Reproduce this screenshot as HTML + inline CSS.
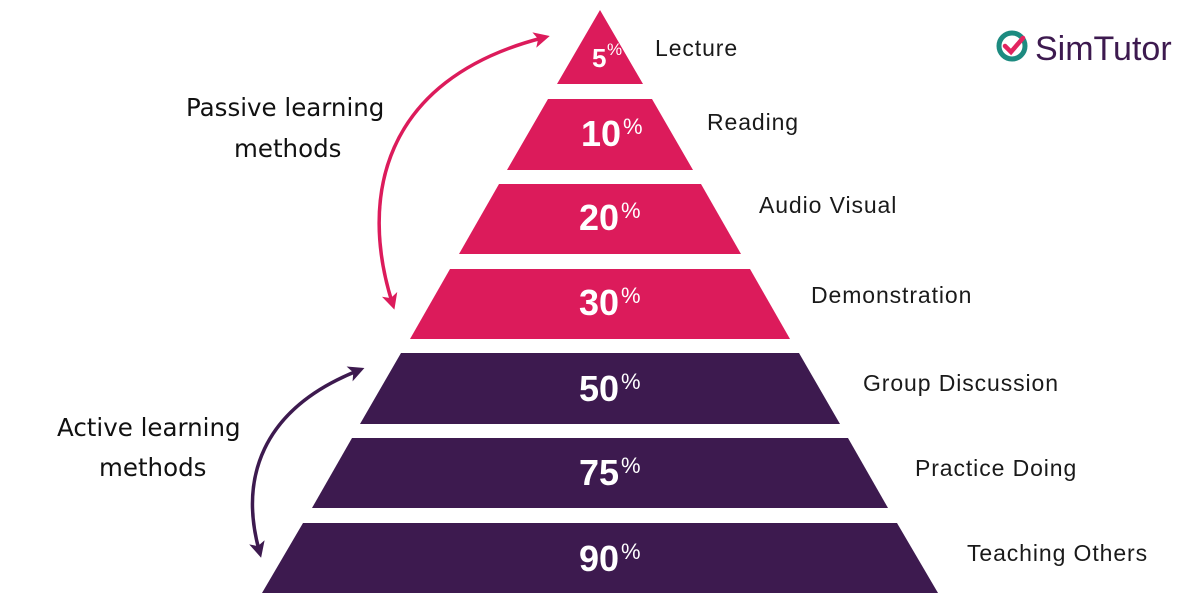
<!DOCTYPE html>
<html><head><meta charset="utf-8"><style>
html,body{margin:0;padding:0;background:#fff;}
svg{display:block}
.n{font-family:"Liberation Sans",sans-serif;font-weight:bold;font-size:36px;fill:#fff}
.p{font-family:"Liberation Sans",sans-serif;font-size:22px;fill:#fff}
.l{font-family:"Liberation Sans",sans-serif;font-size:23px;letter-spacing:0.9px;fill:#1a1a1a}
.h{font-family:"DejaVu Sans",sans-serif;font-size:24.5px;fill:#111}
</style></head><body>
<svg width="1200" height="600" viewBox="0 0 1200 600">
<defs>
<marker id="ap" markerWidth="18" markerHeight="18" refX="8" refY="8" orient="auto-start-reverse" markerUnits="userSpaceOnUse"><path d="M0,0 L16,8 L0,16 L4,8 Z" fill="#dc1b5b"/></marker>
<marker id="au" markerWidth="18" markerHeight="18" refX="8" refY="8" orient="auto-start-reverse" markerUnits="userSpaceOnUse"><path d="M0,0 L16,8 L0,16 L4,8 Z" fill="#3d1a4f"/></marker>
</defs>
<g fill="#dc1b5b">
<polygon points="600,10 643,84 557,84"/>
<polygon points="548,99 652,99 693,170 507,170"/>
<polygon points="499,184 701,184 741,254 459,254"/>
<polygon points="450,269 750,269 790,339 410,339"/>
</g>
<g fill="#3d1a4f">
<polygon points="401,353 799,353 840,424 360,424"/>
<polygon points="352,438 848,438 888,508 312,508"/>
<polygon points="303,523 897,523 938,593 262,593"/>
</g>
<text class="n" x="592" y="67" style="font-size:26px">5</text><text class="p" x="607" y="55" style="font-size:17px">%</text>
<text class="n" x="581" y="146">10</text><text class="p" x="623" y="134">%</text>
<text class="n" x="579" y="230">20</text><text class="p" x="621" y="218">%</text>
<text class="n" x="579" y="315">30</text><text class="p" x="621" y="303">%</text>
<text class="n" x="579" y="401">50</text><text class="p" x="621" y="389">%</text>
<text class="n" x="579" y="485">75</text><text class="p" x="621" y="473">%</text>
<text class="n" x="579" y="571">90</text><text class="p" x="621" y="559">%</text>
<text class="l" x="655" y="56">Lecture</text>
<text class="l" x="707" y="130">Reading</text>
<text class="l" x="759" y="213">Audio Visual</text>
<text class="l" x="811" y="303">Demonstration</text>
<text class="l" x="863" y="391">Group Discussion</text>
<text class="l" x="915" y="476">Practice Doing</text>
<text class="l" x="967" y="561">Teaching Others</text>
<path d="M392,302 C360,200 380,80 542,38" fill="none" stroke="#dc1b5b" stroke-width="3.5" marker-end="url(#ap)" marker-start="url(#ap)"/>
<path d="M357,371 C260,410 240,480 259,550" fill="none" stroke="#3d1a4f" stroke-width="3.5" marker-end="url(#au)" marker-start="url(#au)"/>
<text class="h" x="186" y="116">Passive learning</text>
<text class="h" x="234" y="157">methods</text>
<text class="h" x="57" y="436">Active learning</text>
<text class="h" x="99" y="476">methods</text>
<g transform="translate(997,30)">
<circle cx="15" cy="16" r="13" fill="none" stroke="#1d8b80" stroke-width="5"/>
<path d="M8,16 L14,22 L26,8" fill="none" stroke="#e2245f" stroke-width="4.5" stroke-linecap="round"/>
</g>
<text x="1035" y="60" style="font-family:'Liberation Sans',sans-serif;font-size:34px;fill:#3d1a4f">SimTutor</text>
</svg>
</body></html>
